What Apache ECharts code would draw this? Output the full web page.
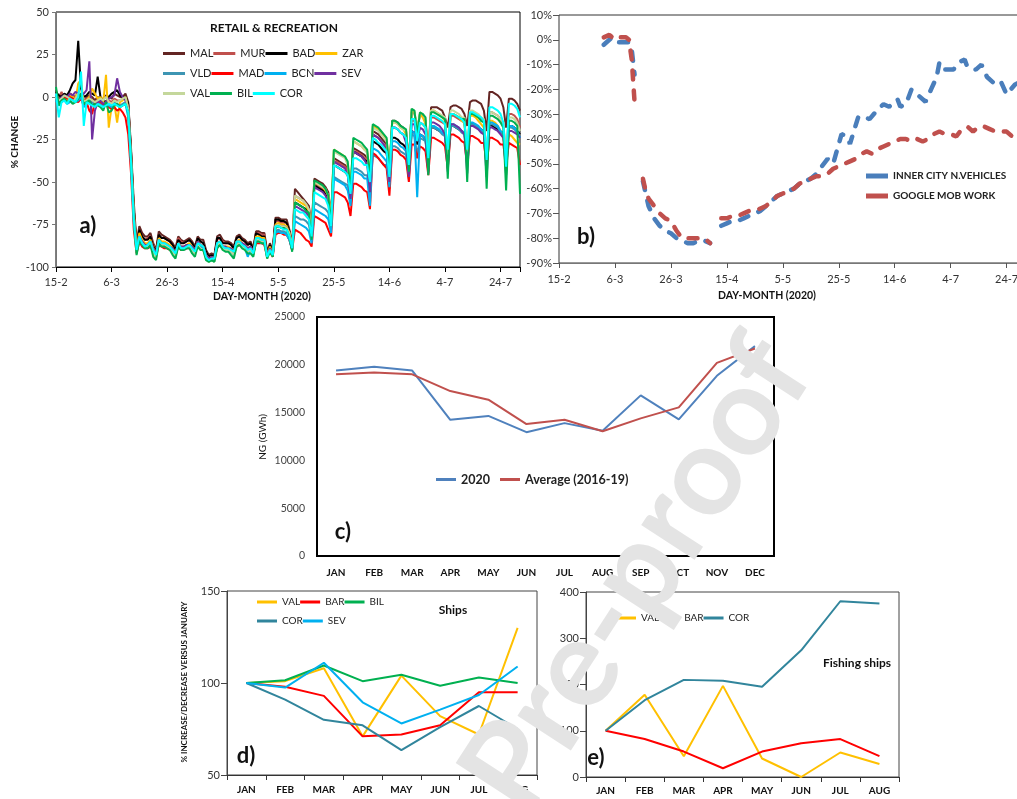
<!DOCTYPE html>
<html>
<head>
<meta charset="utf-8">
<script src="https://cdn.jsdelivr.net/npm/echarts@6/dist/echarts.min.js"></script>
<style>
html, body { margin: 0; padding: 0; background: #fff; }
#chart { width: 1017px; height: 799px; }
</style>
</head>
<body>
<div id="chart"></div>
<script>
// ---- a) Google mobility, retail & recreation (one value a day from 15-2, rows are weeks Sat..Fri)
var dayTicks = ['15-2', '6-3', '26-3', '15-4', '5-5', '25-5', '14-6', '4-7', '24-7'];
var retailNames = ['MAL', 'MUR', 'BAD', 'ZAR', 'VLD', 'MAD', 'BCN', 'SEV', 'VAL', 'BIL', 'COR'];
var retailColors = ['#632523', '#c0504d', '#000000', '#ffc000', '#3d95b3', '#ff0000', '#00b0f0', '#7030a0', '#c4d79b', '#00b050', '#00ffff'];

var retailMAL = [
  4, -2, 2, 0, 1, 2, 1,
  0, 3, 2, -3, 0, 1, 0,
  -2, 0, -1, -2, 1, 0, -1,
  2, 1, 0, 0, 2, -3, -30,
  -62, -86, -76, -80, -82, -82, -80,
  -86, -90, -79, -81, -82, -83, -84,
  -86, -89, -82, -84, -85, -84, -83,
  -85, -88, -82, -84, -84, -90, -93,
  -92, -93, -82, -81, -84, -85, -85,
  -86, -88, -82, -81, -83, -84, -86,
  -85, -89, -79, -79, -80, -80, -91,
  -86, -90, -71, -71, -72, -72, -72,
  -78, -87, -54, -56, -58, -60, -62,
  -64, -76, -48, -49, -50, -51, -53,
  -56, -70, -36, -37, -38, -39, -40,
  -42, -54, -30, -31, -32, -33, -34,
  -36, -48, -20, -21, -22, -24, -26,
  -28, -44, -14, -14, -15, -17, -18,
  -20, -38, -9, -9, -20, -10, -11,
  -14, -32, -6, -6, -6, -7, -8,
  -12, -18, -6, -5, -5, -6, -7,
  -10, -17, -3, -2, -2, -3, -4,
  -8, -20, 3, 3, 2, 1, -1,
  -6, -18, -1, -1, -2, -4, -8
];
var retailMUR = [
  1, 0, 3, -1, 0, 2, 1,
  -1, 2, 1, -2, -1, 0, -2,
  -3, -2, -2, -1, 0, -2, -3,
  -1, -2, -2, -1, 0, -5, -33,
  -66, -88, -78, -82, -84, -83, -82,
  -87, -91, -81, -83, -83, -84, -85,
  -87, -90, -83, -85, -86, -85, -84,
  -86, -89, -83, -85, -86, -91, -94,
  -93, -94, -84, -83, -85, -86, -86,
  -87, -89, -83, -82, -84, -85, -87,
  -86, -90, -80, -80, -81, -81, -92,
  -87, -91, -73, -73, -74, -74, -74,
  -79, -88, -58, -59, -60, -61, -63,
  -66, -78, -51, -52, -53, -54, -55,
  -58, -72, -38, -38, -39, -40, -41,
  -43, -55, -32, -32, -33, -34, -36,
  -37, -50, -22, -23, -24, -26, -28,
  -30, -46, -18, -18, -19, -21, -22,
  -24, -40, -14, -14, -22, -15, -16,
  -18, -36, -12, -12, -13, -14, -15,
  -16, -34, -11, -11, -12, -13, -14,
  -15, -33, -10, -10, -11, -12, -13,
  -14, -35, -9, -9, -10, -11, -13,
  -16, -36, -10, -10, -11, -13, -18
];
var retailBAD = [
  3, 1, 0, 2, 1, 4, 8,
  10, 33, 5, 0, 1, 3, 2,
  1, 12, 0, -2, -3, 0, 2,
  3, 4, 1, 0, 0, -4, -32,
  -66, -88, -78, -82, -84, -84, -82,
  -88, -91, -81, -83, -83, -84, -85,
  -87, -90, -84, -86, -86, -85, -84,
  -86, -89, -83, -85, -86, -91, -94,
  -93, -94, -83, -83, -86, -86, -86,
  -87, -89, -83, -82, -84, -85, -87,
  -86, -90, -80, -81, -82, -82, -92,
  -87, -91, -72, -72, -73, -73, -74,
  -79, -88, -62, -63, -64, -65, -66,
  -68, -80, -52, -53, -54, -55, -57,
  -60, -74, -40, -41, -42, -43, -44,
  -46, -58, -32, -33, -34, -35, -37,
  -38, -52, -26, -27, -28, -30, -32,
  -33, -48, -24, -24, -25, -27, -28,
  -30, -44, -20, -21, -28, -22, -23,
  -25, -42, -18, -18, -19, -20, -21,
  -22, -38, -17, -17, -18, -19, -20,
  -21, -36, -16, -16, -17, -18, -19,
  -20, -40, -16, -17, -18, -19, -21,
  -22, -38, -18, -17, -18, -20, -22
];
var retailZAR = [
  0, -3, -1, 0, -2, 1, 0,
  -2, 8, 10, -4, -2, 0, 5,
  2, -1, 0, -3, 13, -18, -6,
  -4, -15, -3, -2, 0, -6, -35,
  -68, -89, -80, -84, -86, -86, -84,
  -89, -92, -83, -85, -85, -86, -87,
  -89, -92, -86, -88, -88, -87, -86,
  -88, -90, -85, -87, -88, -93, -95,
  -94, -95, -86, -85, -88, -88, -88,
  -89, -91, -85, -84, -86, -87, -89,
  -88, -91, -82, -82, -83, -83, -93,
  -88, -92, -75, -74, -75, -75, -76,
  -80, -89, -60, -61, -62, -63, -64,
  -67, -79, -50, -51, -52, -53, -55,
  -58, -72, -31, -32, -33, -34, -35,
  -40, -54, -26, -27, -28, -29, -31,
  -32, -46, -17, -18, -19, -21, -23,
  -25, -42, -15, -15, -16, -18, -19,
  -22, -40, -8, -9, -20, -10, -12,
  -16, -36, -8, -8, -9, -10, -12,
  -14, -34, -10, -10, -11, -12, -14,
  -15, -34, -11, -11, -12, -14, -16,
  -18, -38, -14, -14, -15, -17, -20,
  -24, -40, -22, -23, -25, -27, -28
];
var retailVLD = [
  -1, -4, -2, -1, -3, -2, -1,
  -2, 0, 2, -5, -3, -2, -3,
  -4, -3, -4, -5, -3, -4, -5,
  -3, -4, -5, -4, -3, -8, -38,
  -70, -90, -82, -86, -88, -88, -86,
  -90, -93, -85, -87, -87, -88, -89,
  -90, -93, -87, -89, -89, -88, -88,
  -89, -91, -86, -88, -89, -94, -96,
  -95, -96, -88, -87, -89, -90, -90,
  -91, -93, -87, -86, -88, -89, -91,
  -90, -93, -84, -84, -85, -85, -94,
  -90, -93, -79, -78, -79, -79, -80,
  -84, -90, -70, -71, -72, -72, -73,
  -75, -84, -62, -63, -64, -65, -66,
  -68, -78, -47, -48, -49, -50, -51,
  -52, -62, -42, -42, -43, -44, -46,
  -46, -58, -34, -35, -36, -38, -40,
  -40, -54, -29, -29, -30, -32, -33,
  -34, -48, -22, -23, -34, -24, -25,
  -26, -44, -18, -18, -19, -20, -22,
  -23, -40, -17, -17, -18, -19, -21,
  -22, -38, -16, -16, -17, -18, -20,
  -21, -40, -16, -16, -17, -18, -21,
  -22, -40, -18, -18, -19, -21, -24
];
var retailMAD = [
  1, -2, -1, 0, -1, 0, -1,
  -2, -3, -1, -5, -3, -8, -10,
  -3, -2, -3, -4, -5, -6, -7,
  -6, -8, -7, -9, -12, -22, -45,
  -78, -92, -85, -88, -89, -89, -88,
  -91, -94, -87, -88, -89, -89, -90,
  -91, -93, -88, -90, -90, -89, -89,
  -90, -92, -87, -89, -90, -94, -96,
  -95, -96, -88, -87, -89, -90, -90,
  -91, -92, -88, -87, -88, -89, -90,
  -90, -92, -86, -86, -86, -87, -94,
  -91, -94, -81, -80, -80, -81, -81,
  -84, -90, -78, -79, -80, -82, -84,
  -85, -88, -70, -71, -72, -73, -74,
  -78, -82, -56, -56, -57, -58, -59,
  -62, -70, -51, -51, -52, -53, -55,
  -56, -66, -33, -34, -36, -38, -40,
  -42, -58, -31, -31, -32, -34, -35,
  -37, -50, -28, -28, -36, -29, -30,
  -32, -46, -24, -24, -25, -26, -27,
  -29, -42, -22, -22, -23, -24, -26,
  -27, -40, -23, -23, -24, -25, -27,
  -27, -40, -24, -24, -25, -26, -28,
  -28, -40, -27, -28, -29, -30, -40
];
var retailBCN = [
  -2, -5, -3, -2, -4, -3, -2,
  -3, -2, 0, -6, -4, -3, -4,
  -5, -4, -5, -6, -4, -5, -6,
  -4, -5, -6, -5, -4, -12, -40,
  -74, -91, -84, -87, -88, -88, -87,
  -90, -93, -86, -87, -88, -88, -89,
  -91, -93, -88, -89, -90, -89, -88,
  -90, -92, -87, -88, -89, -94, -96,
  -95, -96, -87, -86, -89, -90, -90,
  -91, -93, -87, -86, -88, -89, -94,
  -90, -92, -85, -85, -86, -86, -94,
  -90, -93, -80, -79, -80, -80, -81,
  -84, -90, -73, -74, -75, -76, -77,
  -79, -86, -66, -67, -68, -69, -70,
  -72, -80, -48, -49, -50, -51, -52,
  -55, -64, -44, -44, -45, -46, -48,
  -48, -64, -30, -31, -32, -34, -36,
  -38, -53, -26, -26, -27, -29, -30,
  -32, -46, -20, -21, -59, -22, -23,
  -25, -42, -17, -17, -18, -19, -21,
  -22, -38, -16, -16, -17, -18, -20,
  -21, -36, -15, -15, -16, -17, -19,
  -20, -38, -15, -15, -16, -17, -20,
  -21, -38, -17, -17, -18, -20, -24
];
var retailSEV = [
  2, -3, 0, 1, 0, 2, 1,
  3, 2, 1, 2, 4, 21, -25,
  -8, -3, -2, -4, -3, -1, 0,
  1, 11, 3, 0, -2, -6, -36,
  -70, -90, -82, -85, -87, -87, -85,
  -89, -92, -84, -86, -86, -87, -88,
  -89, -92, -86, -88, -88, -87, -87,
  -88, -90, -85, -87, -88, -93, -95,
  -94, -95, -86, -85, -88, -88, -89,
  -89, -91, -85, -85, -86, -87, -89,
  -88, -91, -83, -83, -84, -84, -93,
  -89, -92, -76, -75, -76, -76, -77,
  -81, -89, -64, -65, -66, -67, -68,
  -70, -81, -53, -54, -55, -56, -58,
  -62, -75, -38, -39, -40, -41, -42,
  -46, -60, -32, -33, -34, -35, -37,
  -40, -56, -22, -23, -24, -26, -28,
  -33, -50, -18, -18, -19, -21, -22,
  -27, -47, -16, -16, -26, -18, -19,
  -22, -45, -15, -15, -16, -17, -19,
  -22, -44, -16, -16, -17, -18, -20,
  -22, -45, -17, -17, -18, -19, -21,
  -22, -47, -18, -18, -19, -20, -22,
  -24, -46, -20, -20, -21, -22, -24
];
var retailVAL = [
  0, -2, -1, 1, 0, -1, -3,
  -1, 2, 3, -3, -2, -1, -2,
  -3, -2, -1, -2, 0, -3, -4,
  -2, -3, -2, -1, 0, -7, -36,
  -70, -91, -83, -86, -88, -88, -86,
  -91, -95, -85, -87, -87, -88, -89,
  -91, -94, -87, -89, -90, -89, -88,
  -90, -92, -87, -89, -90, -95, -97,
  -96, -97, -87, -86, -89, -90, -90,
  -91, -93, -87, -86, -88, -89, -91,
  -90, -93, -84, -84, -85, -85, -95,
  -90, -93, -76, -75, -76, -76, -77,
  -80, -89, -58, -59, -60, -61, -63,
  -66, -80, -50, -51, -52, -53, -54,
  -58, -74, -32, -33, -34, -35, -36,
  -40, -55, -26, -27, -28, -29, -31,
  -33, -47, -18, -19, -20, -22, -24,
  -26, -43, -15, -15, -16, -18, -19,
  -20, -40, -7, -8, -20, -9, -10,
  -13, -36, -8, -8, -9, -10, -11,
  -12, -34, -8, -8, -9, -10, -12,
  -12, -32, -8, -8, -9, -10, -12,
  -13, -34, -9, -9, -10, -11, -13,
  -15, -34, -12, -12, -13, -15, -20
];
var retailBIL = [
  6, -5, -2, -1, -3, -2, -4,
  -3, -1, 2, -4, -3, -2, -5,
  -4, -5, -6, -8, -3, -9, -8,
  -5, -4, -6, -5, -4, -9, -37,
  -72, -93, -84, -87, -89, -89, -87,
  -94, -96, -86, -88, -88, -89, -90,
  -93, -95, -88, -90, -90, -89, -89,
  -92, -94, -88, -90, -90, -96, -97,
  -96, -97, -89, -87, -90, -91, -91,
  -93, -95, -88, -87, -89, -90, -92,
  -92, -94, -85, -85, -86, -86, -95,
  -91, -94, -77, -76, -77, -77, -78,
  -82, -91, -62, -63, -64, -65, -67,
  -68, -84, -49, -50, -51, -52, -54,
  -58, -76, -31, -32, -33, -34, -35,
  -38, -56, -24, -25, -26, -27, -29,
  -31, -48, -16, -17, -18, -20, -22,
  -24, -45, -14, -14, -15, -17, -18,
  -19, -44, -7, -8, -22, -9, -10,
  -12, -46, -9, -9, -10, -11, -12,
  -13, -48, -10, -10, -11, -12, -13,
  -13, -50, -10, -10, -11, -12, -14,
  -15, -54, -11, -11, -12, -13, -15,
  -18, -55, -14, -14, -15, -17, -57
];
var retailCOR = [
  2, -12, -3, -2, -4, -1, -2,
  -3, 0, 15, -17, -3, -4, -5,
  -6, -4, -5, -6, -5, -4, -5,
  -4, -5, -6, -5, -4, -9, -38,
  -72, -90, -82, -86, -88, -87, -85,
  -90, -93, -84, -86, -86, -87, -88,
  -90, -92, -86, -89, -89, -88, -87,
  -89, -91, -86, -87, -88, -94, -96,
  -95, -95, -86, -85, -88, -89, -89,
  -90, -91, -85, -85, -87, -88, -90,
  -89, -92, -83, -83, -84, -84, -94,
  -90, -93, -76, -76, -77, -78, -78,
  -82, -89, -66, -67, -68, -68, -70,
  -72, -82, -56, -57, -58, -59, -60,
  -64, -76, -40, -41, -42, -43, -44,
  -46, -57, -36, -36, -37, -38, -40,
  -40, -50, -24, -25, -27, -28, -30,
  -32, -47, -18, -18, -19, -21, -22,
  -24, -40, -13, -13, -26, -15, -16,
  -18, -36, -11, -11, -12, -13, -14,
  -16, -31, -10, -10, -11, -12, -13,
  -15, -31, -9, -9, -10, -11, -12,
  -14, -37, -6, -6, -7, -8, -10,
  -15, -41, -4, -4, -5, -7, -12
];
var retailData = [retailMAL, retailMUR, retailBAD, retailZAR, retailVLD, retailMAD,
  retailBCN, retailSEV, retailVAL, retailBIL, retailCOR];

// ---- b) [day from 15-2, % change], null = no data
var innerCity = [
  [16, -2], [18, 0], [19, 1], [21, -1], [23, -1], [25, -1], [26, -4], [27, -14], [28, null],
  [30, -57], [31, -62], [32, -67], [34, -72], [36, -75], [38, -77], [40, -78], [42, -80], [44, -81],
  [46, -82], [48, -82], [50, -81], [52, -81], [54, -82], [56, null],
  [58, -75], [60, -74], [62, -73], [64, -73], [66, -72], [68, -71], [70, -70], [72, -69], [74, -67],
  [76, -65], [78, -63], [80, -62], [82, -61], [84, -60], [86, -58], [88, -57], [90, -56], [92, -54],
  [94, -51], [96, -48], [98, -50], [100, -42], [101, -38], [103, -39], [104, -42], [107, -31],
  [109, -31], [111, -32], [114, -28], [116, -26], [118, -27], [121, -24], [122, -27], [124, -26],
  [126, -20], [131, -25], [133, -20], [135, -15], [136, -9], [138, -12], [141, -12], [143, -9],
  [145, -8], [146, -11], [149, -12], [151, -10], [153, -15], [156, -18], [158, -17], [160, -22],
  [163, -18], [165, -17], [167, -18]
];
var googleWork = [
  [16, 1], [18, 2], [20, 0], [22, 1], [24, 1], [25, 0], [26, -8], [27, -25], [28, null],
  [30, -56], [31, -61], [32, -64], [34, -67], [36, -70], [38, -72], [40, -73], [42, -77], [44, -80],
  [46, -80], [48, -80], [50, -80], [52, -80], [54, -82], [56, null],
  [58, -72], [60, -72], [62, -71], [64, -71], [66, -70], [68, -69], [70, -69], [72, -68], [74, -67],
  [76, -65], [78, -63], [80, -62], [82, -61], [84, -60], [86, -58], [88, -57], [90, -56], [92, -55],
  [94, -55], [96, -54], [98, -52], [100, -51], [102, -50], [104, -49], [106, -48], [108, -46],
  [110, -45], [112, -46], [114, -44], [116, -43], [118, -42], [120, -41], [122, -40], [124, -40],
  [126, -41], [128, -40], [130, -41], [132, -40], [134, -38], [136, -37], [138, -38], [140, -38],
  [142, -39], [144, -36], [146, -35], [148, -37], [150, -35], [152, -35], [154, -36], [156, -37],
  [158, -37], [160, -37], [162, -39], [164, -41]
];

// ---- c) natural gas demand (GWh)
var months12 = ['JAN', 'FEB', 'MAR', 'APR', 'MAY', 'JUN', 'JUL', 'AUG', 'SEP', 'OCT', 'NOV', 'DEC'];
var ng2020 = [19400, 19800, 19400, 14250, 14650, 12950, 13900, 13100, 16800, 14300, 18850, 21950];
var ngAverage = [19000, 19200, 19000, 17250, 16350, 13800, 14250, 13050, 14400, 15550, 20200, 21700];

// ---- d) ships, e) fishing ships (% vs January)
var months8 = ['JAN', 'FEB', 'MAR', 'APR', 'MAY', 'JUN', 'JUL', 'AUG'];
var shipsVAL = [100, 101, 108, 71, 104, 82, 72, 130];
var shipsBAR = [100, 98, 93, 71, 72, 77, 95, 95];
var shipsBIL = [100, 101.5, 109.5, 101, 104.5, 98.5, 103, 100];
var shipsCOR = [100, 91, 80, 77, 63.5, 76, 87.5, 75];
var shipsSEV = [100, 97.5, 111, 89.5, 78, 85.5, 93.5, 109];
var fishVAL = [100, 178, 45, 197, 40, 0, 53, 28];
var fishBAR = [100, 82, 55, 19, 55, 73, 82, 45];
var fishCOR = [100, 166, 210, 208, 195, 274, 380, 375];

var FONT = 'Lato';
var chart = echarts.init(document.getElementById('chart'));

function valueAxis(grid, min, max, interval, fmt, extra) {
  var ax = {
    gridIndex: grid, type: 'value', min: min, max: max, interval: interval,
    splitLine: { show: false },
    axisLine: { show: true, onZero: false, lineStyle: { color: '#777', width: 1 } },
    axisTick: { show: true, length: 4, lineStyle: { color: '#777' } },
    axisLabel: { fontFamily: FONT, fontSize: 11, color: '#333', margin: 7,
      formatter: fmt || function (v) { return String(v); } }
  };
  return Object.assign(ax, extra || {});
}
function monthAxis(grid, cats, extra) {
  var ax = {
    gridIndex: grid, type: 'category', data: cats, boundaryGap: true,
    axisLine: { show: true, onZero: false, lineStyle: { color: '#333', width: 1 } },
    axisTick: { show: true, length: 5, lineStyle: { color: '#333' } },
    axisLabel: { fontFamily: FONT, fontSize: 10, fontWeight: 'bold', color: '#111', margin: 10, interval: 0 },
    splitLine: { show: false }
  };
  return Object.assign(ax, extra || {});
}
function dayFmt(v) { return v % 20 === 0 ? dayTicks[v / 20] : ''; }
function plain(s) { return s.split(':')[1]; }

var series = [];
retailNames.forEach(function (n, k) {
  series.push({
    type: 'line', name: 'a:' + n, xAxisIndex: 0, yAxisIndex: 0, symbol: 'none',
    data: retailData[k].map(function (v, i) { return [i, v]; }),
    lineStyle: { width: 2, color: retailColors[k] }, itemStyle: { color: retailColors[k] }
  });
});
[['INNER CITY N.VEHICLES', innerCity, '#4a7ebb'], ['GOOGLE MOB WORK', googleWork, '#c0504d']].forEach(function (s) {
  series.push({
    type: 'line', name: s[0], xAxisIndex: 1, yAxisIndex: 1, symbol: 'none', connectNulls: false,
    data: s[1], lineStyle: { width: 4.5, color: s[2], type: [9, 11], cap: 'round' }, itemStyle: { color: s[2] }
  });
});
[['2020', ng2020, '#4f81bd'], ['Average (2016-19)', ngAverage, '#c0504d']].forEach(function (s) {
  series.push({
    type: 'line', name: s[0], xAxisIndex: 2, yAxisIndex: 2, symbol: 'none', data: s[1],
    lineStyle: { width: 2, color: s[2] }, itemStyle: { color: s[2] }
  });
});
[['d:VAL', shipsVAL, '#ffc000'], ['d:BAR', shipsBAR, '#ff0000'], ['d:BIL', shipsBIL, '#00b050'],
 ['d:COR', shipsCOR, '#31859c'], ['d:SEV', shipsSEV, '#00b0f0']].forEach(function (s) {
  series.push({
    type: 'line', name: s[0], xAxisIndex: 3, yAxisIndex: 3, symbol: 'none', data: s[1],
    lineStyle: { width: 2, color: s[2] }, itemStyle: { color: s[2] }
  });
});
[['e:VAL', fishVAL, '#ffc000'], ['e:BAR', fishBAR, '#ff0000'], ['e:COR', fishCOR, '#31859c']].forEach(function (s) {
  series.push({
    type: 'line', name: s[0], xAxisIndex: 4, yAxisIndex: 4, symbol: 'none', data: s[1],
    lineStyle: { width: 2, color: s[2] }, itemStyle: { color: s[2] }
  });
});

function legend(names, left, top, textW, extra) {
  var lg = {
    data: names, left: left, top: top, padding: 0, itemGap: 0, itemWidth: 22, itemHeight: 3,
    icon: 'rect', selectedMode: false,
    textStyle: { fontFamily: FONT, fontSize: 11, color: '#222', width: textW },
    formatter: function (n) { return n.indexOf(':') > 0 ? plain(n) : n; }
  };
  return Object.assign(lg, extra || {});
}

function label(text, x, y, font, extra) {
  var el = {
    type: 'text', x: x, y: y, z: 50,
    style: { text: text, font: font, fill: '#111', align: 'center', verticalAlign: 'middle',
      textAlign: 'center', textVerticalAlign: 'middle' }
  };
  return Object.assign(el, extra || {});
}

chart.setOption({
  animation: false,
  backgroundColor: '#fff',
  grid: [
    { left: 56, top: 12, width: 464, height: 255, show: true, borderColor: '#000', borderWidth: 1, outerBoundsMode: 'none' },
    { left: 559, top: 15, width: 470, height: 248, show: true, borderColor: '#333', borderWidth: 1, outerBoundsMode: 'none' },
    { left: 317, top: 317, width: 457, height: 239, show: true, borderColor: '#000', borderWidth: 2, outerBoundsMode: 'none' },
    { left: 227, top: 591, width: 310, height: 184, show: true, borderColor: '#444', borderWidth: 1, outerBoundsMode: 'none' },
    { left: 586, top: 592, width: 313, height: 185, show: true, borderColor: '#444', borderWidth: 1, outerBoundsMode: 'none' }
  ],
  xAxis: [
    valueAxis(0, 0, 167, 20, dayFmt, {
      axisLine: { show: true, onZero: false, lineStyle: { color: '#000' } },
      axisTick: { show: true, length: 5, lineStyle: { color: '#000' } },
      axisLabel: { fontFamily: FONT, fontSize: 11, color: '#333', margin: 10, formatter: dayFmt } }),
    valueAxis(1, 0, 168, 20, dayFmt, {
      axisTick: { show: true, length: 5, lineStyle: { color: '#555' } },
      axisLabel: { fontFamily: FONT, fontSize: 11, color: '#333', margin: 11, formatter: dayFmt } }),
    monthAxis(2, months12, { axisTick: { show: false }, axisLine: { show: true, onZero: false, lineStyle: { color: '#000', width: 2 } },
      axisLabel: { fontFamily: FONT, fontSize: 10, fontWeight: 'bold', color: '#111', margin: 12, interval: 0 } }),
    monthAxis(3, months8),
    monthAxis(4, months8, { axisLabel: { fontFamily: FONT, fontSize: 10, fontWeight: 'bold', color: '#111', margin: 9, interval: 0 } })
  ],
  yAxis: [
    valueAxis(0, -100, 50, 25),
    valueAxis(1, -90, 10, 10, function (v) { return v + '%'; }, {
      axisLine: { show: false, onZero: false }, axisTick: { show: true, length: 6, lineStyle: { color: '#555' } } }),
    valueAxis(2, 0, 25000, 5000, null, { axisTick: { show: false }, axisLine: { show: false, onZero: false },
      axisLabel: { fontFamily: FONT, fontSize: 10.5, color: '#444', margin: 12, formatter: function (v) { return String(v); } } }),
    valueAxis(3, 50, 150, 50, null, { axisLine: { show: true, onZero: false, lineStyle: { color: '#444' } },
      axisTick: { show: true, length: 6, lineStyle: { color: '#444' } } }),
    valueAxis(4, 0, 400, 100, null, { axisLine: { show: true, onZero: false, lineStyle: { color: '#444' } },
      axisTick: { show: true, length: 6, lineStyle: { color: '#444' } } })
  ],
  legend: [
    legend(['a:MAL', 'a:MUR', 'a:BAD', 'a:ZAR'], 163, 48, 44),
    legend(['a:VLD', 'a:MAD', 'a:BCN', 'a:SEV'], 163, 68, 44),
    legend(['a:VAL', 'a:BIL', 'a:COR'], 163, 88, 44),
    legend(['INNER CITY N.VEHICLES', 'GOOGLE MOB WORK'], 866, 171, null, {
      orient: 'vertical', itemGap: 10, itemHeight: 5,
      textStyle: { fontFamily: FONT, fontSize: 10, fontWeight: 'bold', color: '#222' } }),
    legend(['2020', 'Average (2016-19)'], 436, 473, null, {
      itemGap: 10, itemWidth: 20,
      textStyle: { fontFamily: FONT, fontSize: 12.5, fontWeight: 'bold', color: '#222' } }),
    legend(['d:VAL', 'd:BAR', 'd:BIL'], 257, 597, 32, { itemWidth: 20,
      textStyle: { fontFamily: FONT, fontSize: 10, color: '#222', width: 32 } }),
    legend(['d:COR', 'd:SEV'], 257, 616, 32, { itemWidth: 20,
      textStyle: { fontFamily: FONT, fontSize: 10, color: '#222', width: 32 } }),
    legend(['e:VAL', 'e:BAR', 'e:COR'], 616, 613, 28, { itemWidth: 20,
      textStyle: { fontFamily: FONT, fontSize: 10, color: '#222', width: 28 } })
  ],
  series: series,
  graphic: [
    label('RETAIL & RECREATION', 274, 28, 'bold 12px ' + FONT),
    label('a)', 88, 226, 'bold 22px ' + FONT),
    label('% CHANGE', 15, 142, 'bold 10px ' + FONT, { rotation: Math.PI / 2 }),
    label('DAY-MONTH (2020)', 262, 297, 'bold 10.5px ' + FONT),
    label('b)', 586, 237, 'bold 22px ' + FONT),
    label('DAY-MONTH (2020)', 767, 296, 'bold 10.5px ' + FONT),
    label('c)', 343, 532, 'bold 22px ' + FONT),
    label('NG (GWh)', 263, 437, '10px ' + FONT, { rotation: Math.PI / 2 }),
    label('d)', 246, 756, 'bold 22px ' + FONT),
    label('% INCREASE/DECREASE VERSUS JANUARY', 184, 682, 'bold 8px ' + FONT, { rotation: Math.PI / 2 }),
    label('Ships', 453, 610, 'bold 12px ' + FONT),
    label('e)', 596, 758, 'bold 22px ' + FONT),
    label('Fishing ships', 857, 663, 'bold 12px ' + FONT),
    {
      type: 'text', x: 637, y: 575, rotation: 0.995, z: 100,
      style: { text: 'Pre-proof', font: 'bold 124px ' + FONT, fill: '#e4e4e4',
        align: 'center', verticalAlign: 'middle', textAlign: 'center', textVerticalAlign: 'middle' }
    }
  ]
});
</script>
</body>
</html>
